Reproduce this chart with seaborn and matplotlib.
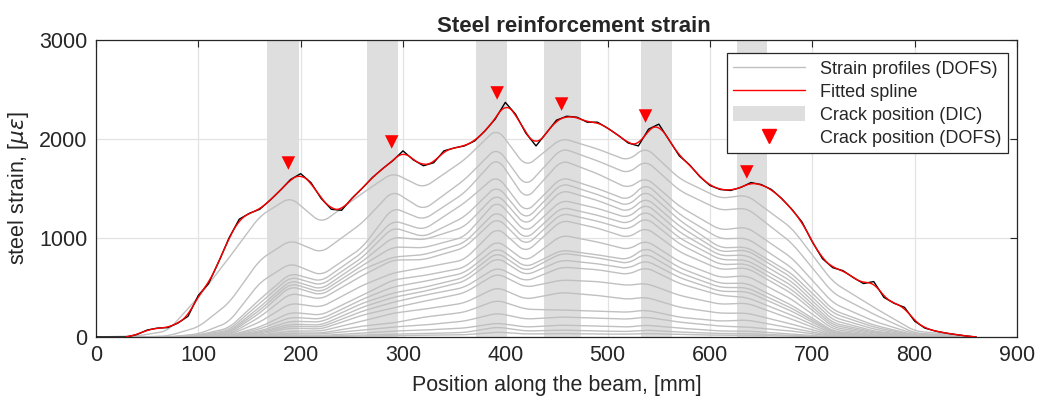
import numpy as np
import pandas as pd
import matplotlib
matplotlib.use("Agg")
import matplotlib.pyplot as plt
import seaborn as sns
from matplotlib.lines import Line2D
from matplotlib.patches import Patch

# ---------------- data ----------------
# crack positions from DIC (band start / end, mm)
dic_start = [167, 265, 371, 438, 533, 626]
dic_end = [198, 295, 402, 474, 563, 656]

# crack positions from DOFS (mm) and marker heights (microstrain)
dofs_x = [188, 289, 392, 455, 537, 636]
dofs_y = [1757, 1970, 2465, 2353, 2232, 1667]

# final measured profile (black), sampled every 10 mm
final_x = list(range(0, 870, 10))
final_y = [0, 0, 0, 0, 25, 70, 90, 95, 140, 210, 420, 540, 760, 1000, 1190,
           1250, 1290, 1380, 1480, 1590, 1650, 1560, 1400, 1290, 1280, 1400,
           1500, 1610, 1700, 1780, 1880, 1790, 1730, 1760, 1880, 1910, 1930,
           1980, 2080, 2200, 2370, 2250, 2060, 1930, 2060, 2190, 2230, 2220,
           2170, 2170, 2110, 2040, 1960, 1930, 2100, 2150, 1990, 1830, 1740,
           1620, 1530, 1490, 1480, 1510, 1560, 1540, 1490, 1400, 1290, 1160,
           960, 790, 700, 670, 600, 540, 560, 400, 340, 300, 160, 90, 60, 40,
           25, 10, 0]

# earlier load-stage strain profiles (grey), sampled at grid_x
grid_x = [0, 40, 70, 100, 130, 160, 190, 220, 260, 290, 320, 360, 392, 420,
          455, 490, 520, 537, 570, 610, 636, 680, 720, 760, 800, 860]
p01 = [0, 10, 60, 400, 800, 1220, 1414, 1150, 1450, 1660, 1505, 1788, 2110, 1717, 2010, 1900, 1780, 1920, 1600, 1400, 1434, 1100, 556, 300, 60, 0]
p02 = [0, 0, 10, 100, 343, 780, 980, 850, 1150, 1480, 1283, 1586, 1919, 1515, 1909, 1780, 1650, 1788, 1480, 1280, 1303, 950, 444, 230, 40, 0]
p03 = [0, 0, 0, 30, 150, 550, 747, 620, 900, 1310, 1182, 1454, 1818, 1384, 1788, 1650, 1500, 1616, 1320, 1080, 1111, 800, 343, 160, 30, 0]
p04 = [0, 0, 0, 20, 90, 380, 646, 560, 850, 1180, 1081, 1353, 1636, 1252, 1616, 1500, 1380, 1555, 1240, 990, 1000, 700, 273, 120, 20, 0]
p05 = [0, 0, 0, 15, 70, 340, 610, 520, 800, 1110, 1010, 1212, 1535, 1180, 1555, 1440, 1320, 1485, 1180, 900, 909, 640, 240, 100, 15, 0]
p06 = [0, 0, 0, 10, 55, 300, 575, 480, 760, 1010, 980, 1111, 1454, 1120, 1485, 1380, 1260, 1414, 1120, 860, 879, 600, 202, 80, 10, 0]
p07 = [0, 0, 0, 10, 45, 270, 545, 450, 720, 910, 900, 1010, 1384, 1050, 1384, 1300, 1200, 1353, 1060, 820, 828, 560, 170, 60, 10, 0]
p08 = [0, 0, 0, 5, 35, 240, 515, 420, 680, 808, 830, 950, 1283, 980, 1313, 1230, 1140, 1283, 1000, 780, 778, 520, 141, 50, 5, 0]
p09 = [0, 0, 0, 5, 25, 200, 444, 380, 620, 778, 780, 900, 1212, 920, 1252, 1170, 1080, 1212, 940, 730, 740, 480, 120, 40, 5, 0]
p10 = [0, 0, 0, 5, 20, 150, 343, 300, 520, 646, 700, 778, 1111, 850, 1182, 1100, 1000, 1111, 860, 680, 700, 440, 100, 30, 0, 0]
p11 = [0, 0, 0, 0, 15, 100, 250, 220, 420, 576, 620, 700, 980, 760, 1030, 960, 880, 980, 760, 600, 620, 380, 80, 20, 0, 0]
p12 = [0, 0, 0, 0, 10, 80, 200, 180, 380, 505, 560, 646, 909, 700, 879, 830, 780, 909, 700, 540, 545, 320, 60, 15, 0, 0]
p13 = [0, 0, 0, 0, 10, 60, 160, 150, 340, 444, 500, 600, 859, 660, 848, 800, 740, 848, 650, 500, 500, 290, 50, 10, 0, 0]
p14 = [0, 0, 0, 0, 5, 50, 130, 120, 300, 400, 460, 560, 808, 620, 778, 740, 690, 778, 600, 460, 460, 260, 40, 10, 0, 0]
p15 = [0, 0, 0, 0, 5, 40, 110, 100, 260, 350, 420, 500, 707, 560, 707, 680, 630, 707, 540, 420, 400, 220, 30, 5, 0, 0]
p16 = [0, 0, 0, 0, 0, 30, 90, 80, 220, 293, 360, 444, 646, 500, 576, 560, 520, 545, 420, 330, 343, 180, 20, 0, 0, 0]
p17 = [0, 0, 0, 0, 0, 20, 60, 60, 160, 240, 280, 343, 505, 380, 450, 420, 380, 404, 300, 240, 242, 130, 15, 0, 0, 0]
p18 = [0, 0, 0, 0, 0, 15, 40, 40, 110, 141, 200, 250, 374, 280, 273, 260, 250, 273, 200, 160, 172, 90, 10, 0, 0, 0]
p19 = [0, 0, 0, 0, 0, 10, 30, 30, 70, 101, 120, 160, 242, 180, 202, 190, 180, 202, 150, 110, 101, 60, 5, 0, 0, 0]
p20 = [0, 0, 0, 0, 0, 5, 15, 15, 40, 60, 70, 90, 141, 100, 120, 110, 100, 120, 90, 60, 60, 30, 0, 0, 0, 0]
p21 = [0, 0, 0, 0, 0, 0, 8, 8, 20, 30, 35, 45, 101, 60, 70, 60, 55, 70, 50, 35, 35, 15, 0, 0, 0, 0]
p22 = [0, 0, 0, 0, 0, 0, 4, 4, 10, 15, 18, 22, 50, 30, 35, 30, 28, 35, 25, 18, 18, 8, 0, 0, 0, 0]
profiles = [p01, p02, p03, p04, p05, p06, p07, p08, p09, p10, p11,
            p12, p13, p14, p15, p16, p17, p18, p19, p20, p21, p22]

x_ticks = [0, 100, 200, 300, 400, 500, 600, 700, 800, 900]
y_ticks = [0, 1000, 2000, 3000]

# ---------------- helpers ----------------
def smooth(y, w):
    pad = w // 2
    yp = np.pad(y, pad, mode="edge")
    k = np.ones(w) / w
    return np.convolve(yp, k, mode="valid")[: len(y)]

fine = np.arange(0, 861, 1.0)
frames = []
for i, p in enumerate(profiles):
    yy = smooth(np.interp(fine, grid_x, p), 15)
    frames.append(pd.DataFrame({"x": fine, "y": yy, "profile": i}))
gray_df = pd.DataFrame(pd.concat(frames, ignore_index=True))

black_y = np.interp(fine, final_x, final_y)
black_df = pd.DataFrame({"x": fine, "y": black_y})
red_df = pd.DataFrame({"x": fine[30:], "y": smooth(black_y, 15)[30:]})

# ---------------- plot ----------------
sns.set_style("white")
plt.rcParams["font.family"] = ["Liberation Sans", "DejaVu Sans"]
plt.rcParams["mathtext.fontset"] = "dejavusans"

fig = plt.figure(figsize=(10.49, 4.0), dpi=100)
ax = fig.add_axes([0.0915, 0.1575, 0.878, 0.7425])

for s, e in zip(dic_start, dic_end):
    ax.axvspan(s, e, color="#dedede", lw=0, zorder=0.6)

sns.lineplot(data=gray_df, x="x", y="y", units="profile", estimator=None,
             color="#c0c0c0", lw=1.0, ax=ax, legend=False, zorder=2)
sns.lineplot(data=black_df, x="x", y="y", color="black", lw=1.0, ax=ax,
             legend=False, zorder=3)
sns.lineplot(data=red_df, x="x", y="y", color="#ff0000", lw=1.0, ax=ax,
             legend=False, zorder=4)
sns.scatterplot(x=dofs_x, y=dofs_y, marker="v", s=95, color="#ff0000",
                edgecolor="none", ax=ax, zorder=5, legend=False)

ax.set_xlim(0, 900)
ax.set_ylim(0, 3000)
ax.set_xticks(x_ticks)
ax.set_yticks(y_ticks)
ax.set_axisbelow(True)
ax.grid(True, color="#e3e3e3", lw=0.9)
for sp in ax.spines.values():
    sp.set_color("#262626")
    sp.set_linewidth(0.9)
ax.tick_params(direction="in", length=5, width=0.8, top=True, right=True,
               labelsize=15.5, colors="#262626", pad=6)

ax.set_xlabel("Position along the beam, [mm]", fontsize=15.5, color="#262626", labelpad=6)
ax.set_ylabel(r"steel strain, [$\mu\varepsilon$]", fontsize=15.5, color="#262626", labelpad=6)
ax.set_title("Steel reinforcement strain", fontsize=16, fontweight="bold",
             x=0.519, pad=6)

handles = [
    Line2D([0], [0], color="#c0c0c0", lw=1.0),
    Line2D([0], [0], color="#ff0000", lw=1.0),
    Patch(facecolor="#dedede", edgecolor="none"),
    Line2D([0], [0], marker="v", color="#ff0000", lw=0, markersize=10),
]
labels = ["Strain profiles (DOFS)", "Fitted spline", "Crack position (DIC)",
          "Crack position (DOFS)"]
leg = ax.legend(handles, labels, loc="upper right", fontsize=13,
                handlelength=4.0, handleheight=0.9, fancybox=False,
                framealpha=1, edgecolor="#262626", borderpad=0.35,
                labelspacing=0.3, handletextpad=0.8,
                bbox_to_anchor=(0.9995, 0.985))
leg.get_frame().set_linewidth(0.9)

fig.savefig("out.png", dpi=100)
